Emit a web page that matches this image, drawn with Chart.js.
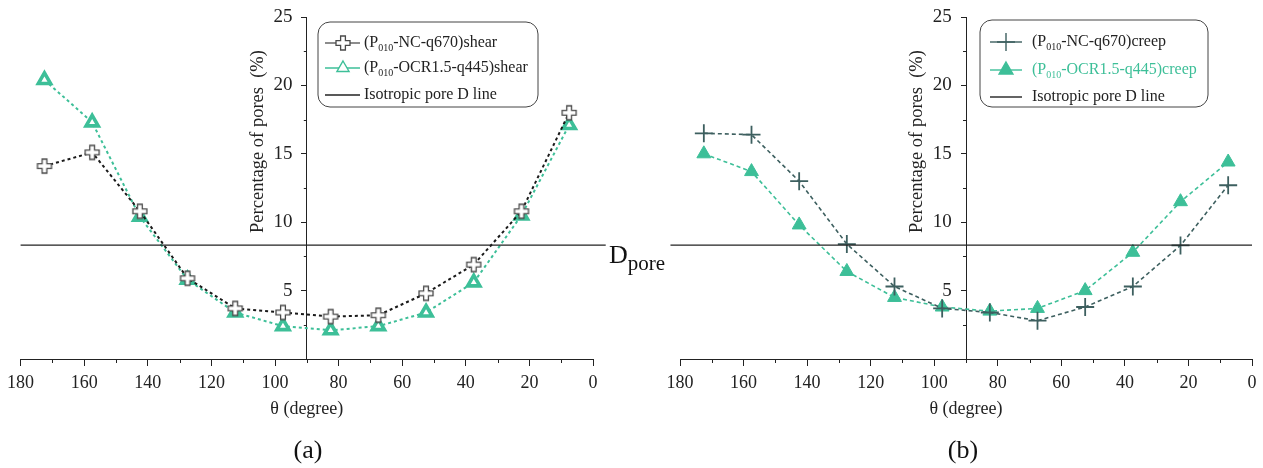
<!DOCTYPE html>
<html>
<head>
<meta charset="utf-8">
<script src="https://cdn.jsdelivr.net/npm/chart.js@4.4.0/dist/chart.umd.min.js"></script>
<style>
  body { margin: 0; background: #fff; width: 1263px; height: 468px; position: relative; overflow: hidden;
         font-family: 'Liberation Serif', 'Times New Roman', serif; color: #111; }
  canvas { position: absolute; top: 0; }
  #chartA { left: 0; width: 640px; height: 468px; }
  #chartB { left: 640px; width: 623px; height: 468px; }
  .panel { position: absolute; font-size: 26px; transform: translate(-50%, -50%); }
  #dpore { position: absolute; left: 609px; top: 240px; font-size: 26px; }
  #dpore sub { font-size: 21px; vertical-align: -7px; }
</style>
</head>
<body>
<canvas id="chartA" width="640" height="468"></canvas>
<canvas id="chartB" width="623" height="468"></canvas>
<div class="panel" style="left:308px;top:450px">(a)</div>
<div class="panel" style="left:963px;top:450px">(b)</div>
<div id="dpore">D<sub>pore</sub></div>
<script>
// bin centres (degree)
const angles = [172.5, 157.5, 142.5, 127.5, 112.5, 97.5, 82.5, 67.5, 52.5, 37.5, 22.5, 7.5];

// percentage of pores
const ncShear  = [14.1, 15.1, 10.8, 5.9, 3.7, 3.4, 3.1, 3.2, 4.8, 6.9, 10.8, 18.0];
const ocrShear = [20.4, 17.3, 10.4, 5.8, 3.4, 2.4, 2.1, 2.4, 3.4, 5.6, 10.5, 17.1];
const ncCreep  = [16.5, 16.4, 13.0, 8.4, 5.3, 3.7, 3.4, 2.8, 3.8, 5.3, 8.3, 12.7];
const ocrCreep = [15.0, 13.7, 9.8, 6.4, 4.5, 3.8, 3.5, 3.7, 5.0, 7.8, 11.5, 14.4];

// isotropic level (100 / 12 bins) and where the line runs
const isoLevel = 8.33;
const isoSpanA = [180, -4];
const isoSpanB = [183, 0];

const TEAL = '#3dbf98';
const SLATE = '#3d5f5f';
const INK = '#222';
const FONT = "'Liberation Serif', 'Times New Roman', serif";

function pts(ys) {
  return angles.map((a, i) => ({ x: a, y: ys[i] }));
}

// open "plus" marker used for the shear NC series
function plusMarker() {
  const c = document.createElement('canvas');
  c.width = 18; c.height = 18;
  const g = c.getContext('2d');
  const L = 7, a = 2.4, cx = 9, cy = 9;
  const p = [[-a,-L],[a,-L],[a,-a],[L,-a],[L,a],[a,a],[a,L],[-a,L],[-a,a],[-L,a],[-L,-a],[-a,-a]];
  g.beginPath();
  p.forEach(([x, y], i) => i ? g.lineTo(cx + x, cy + y) : g.moveTo(cx + x, cy + y));
  g.closePath();
  g.fillStyle = '#fff';
  g.fill();
  g.strokeStyle = '#4a4a4a';
  g.lineWidth = 1.3;
  g.stroke();
  return c;
}
const plusImg = plusMarker();

// text with a subscript part: parts = [[text, isSub], ...]
function drawRich(ctx, parts, x, y, color) {
  ctx.fillStyle = color;
  ctx.textBaseline = 'middle';
  ctx.textAlign = 'left';
  parts.forEach(([t, sub]) => {
    ctx.font = (sub ? '10px ' : '16px ') + FONT;
    ctx.fillText(t, x, sub ? y + 5 : y);
    x += ctx.measureText(t).width;
  });
}

function boxLegend(items, box) {
  return {
    id: 'boxLegend',
    afterDraw(chart) {
      const ctx = chart.ctx;
      ctx.save();
      ctx.beginPath();
      ctx.roundRect(box.x, box.y, box.w, box.h, 12);
      ctx.fillStyle = '#fff';
      ctx.fill();
      ctx.strokeStyle = '#444';
      ctx.lineWidth = 1;
      ctx.stroke();
      items.forEach(it => {
        ctx.strokeStyle = it.line;
        ctx.lineWidth = it.lineWidth || 1.4;
        ctx.setLineDash([]);
        ctx.beginPath();
        ctx.moveTo(box.lineX0, it.y);
        ctx.lineTo(box.lineX1, it.y);
        ctx.stroke();
        if (it.point) {
          ctx.fillStyle = it.fill;
          ctx.strokeStyle = it.stroke;
          Chart.helpers.drawPoint(ctx, it.point, box.markX, it.y);
        }
        drawRich(ctx, it.text, box.textX, it.y, it.color || INK);
      });
      ctx.restore();
    }
  };
}

// minor ticks and the rotated y title beside the centred axis
const axisDecor = {
  id: 'axisDecor',
  afterDraw(chart) {
    const { ctx, scales: { x, y } } = chart;
    const yb = y.getPixelForValue(0);
    const xa = x.getPixelForValue(90);
    ctx.save();
    ctx.strokeStyle = INK;
    ctx.lineWidth = 1;
    ctx.beginPath();
    for (let v = 10; v < 180; v += 20) {
      const px = Math.round(x.getPixelForValue(v)) + 0.5;
      ctx.moveTo(px, yb); ctx.lineTo(px, yb + 4);
    }
    for (let v = 2.5; v < 25; v += 5) {
      const py = Math.round(y.getPixelForValue(v)) + 0.5;
      ctx.moveTo(xa - 3, py); ctx.lineTo(xa, py);
    }
    ctx.stroke();
    ctx.translate(xa - 49, y.getPixelForValue(15.9));
    ctx.rotate(-Math.PI / 2);
    ctx.font = '18.5px ' + FONT;
    ctx.fillStyle = INK;
    ctx.textAlign = 'center';
    ctx.textBaseline = 'middle';
    ctx.fillText('Percentage of pores  (%)', 0, 0);
    ctx.restore();
  }
};

function makeOptions(pad) {
  return {
    responsive: false,
    animation: false,
    layout: { padding: pad },
    plugins: { legend: { display: false }, tooltip: { enabled: false } },
    scales: {
      x: {
        type: 'linear', reverse: true, min: 0, max: 180,
        ticks: { stepSize: 20, color: INK, padding: 6, font: { family: FONT, size: 18 } },
        grid: { drawOnChartArea: false, tickLength: 7, color: INK },
        border: { color: INK },
        title: { display: true, text: 'θ (degree)', color: INK, padding: 0, font: { family: FONT, size: 18 } },
        afterFit(s) { s.height = 61; }
      },
      y: {
        type: 'linear', position: { x: 90 }, min: 0, max: 25,
        ticks: { stepSize: 5, color: INK, font: { family: FONT, size: 19 },
                 // labels sit right on a centred axis, so pad them with trailing spaces
                 callback: v => (v === 0 ? '' : v + '\u2002 ') },
        grid: { drawOnChartArea: false, tickLength: 5, color: c => (c.tick.value === 0 ? 'rgba(0,0,0,0)' : INK) },
        border: { color: INK },
        afterFit(s) { s.width = 0; }
      }
    }
  };
}

function isoDataset(span) {
  return {
    label: 'Isotropic pore D line',
    data: span.map(x => ({ x, y: isoLevel })),
    borderColor: INK, borderWidth: 1.2, pointRadius: 0, clip: false
  };
}

window.onload = function () {
  new Chart(document.getElementById('chartA'), {
    type: 'line',
    data: {
      datasets: [
        isoDataset(isoSpanA),
        {
          label: '(P010-NC-q670)shear', data: pts(ncShear),
          borderColor: '#1a1a1a', borderDash: [3, 3], borderWidth: 2,
          pointStyle: plusImg, pointRadius: 8
        },
        {
          label: '(P010-OCR1.5-q445)shear', data: pts(ocrShear),
          borderColor: TEAL, borderDash: [3, 3], borderWidth: 2,
          pointStyle: 'triangle', pointRadius: 7, pointBorderWidth: 3.6,
          pointBackgroundColor: '#fff', pointBorderColor: TEAL
        }
      ]
    },
    options: makeOptions({ left: 20.6, right: 47, top: 17, bottom: 48 }),
    plugins: [axisDecor, boxLegend([
      { y: 43, line: '#666', point: { pointStyle: plusImg, radius: 8 }, fill: '#fff', stroke: '#555',
        text: [['(P'], ['010', true], ['-NC-q670)shear']] },
      { y: 68, line: TEAL, point: { pointStyle: 'triangle', radius: 7, borderWidth: 3.6 }, fill: '#fff', stroke: TEAL,
        text: [['(P'], ['010', true], ['-OCR1.5-q445)shear']] },
      { y: 95, line: INK, text: [['Isotropic pore D line']] }
    ], { x: 318, y: 22, w: 220, h: 85, lineX0: 325, lineX1: 360, markX: 343, textX: 364 })]
  });

  new Chart(document.getElementById('chartB'), {
    type: 'line',
    data: {
      datasets: [
        isoDataset(isoSpanB),
        {
          label: '(P010-NC-q670)creep', data: pts(ncCreep),
          borderColor: SLATE, borderDash: [4, 3], borderWidth: 1.6,
          pointStyle: 'cross', pointRadius: 9, pointBorderWidth: 1.8, pointBorderColor: SLATE
        },
        {
          label: '(P010-OCR1.5-q445)creep', data: pts(ocrCreep),
          borderColor: TEAL, borderDash: [4, 3], borderWidth: 1.6,
          pointStyle: 'triangle', pointRadius: 8, pointBorderWidth: 1,
          pointBackgroundColor: TEAL, pointBorderColor: TEAL
        }
      ]
    },
    options: makeOptions({ left: 40, right: 11, top: 17, bottom: 48 }),
    plugins: [axisDecor, boxLegend([
      { y: 42, line: SLATE, point: { pointStyle: 'cross', radius: 9, borderWidth: 1.8 }, fill: SLATE, stroke: SLATE,
        text: [['(P'], ['010', true], ['-NC-q670)creep']] },
      { y: 70, line: TEAL, point: { pointStyle: 'triangle', radius: 8, borderWidth: 1 }, fill: TEAL, stroke: TEAL,
        text: [['(P'], ['010', true], ['-OCR1.5-q445)creep']], color: TEAL },
      { y: 97, line: INK, text: [['Isotropic pore D line']] }
    ], { x: 340, y: 20, w: 228, h: 87, lineX0: 350, lineX1: 382, markX: 366, textX: 392 })]
  });
};
</script>
</body>
</html>
